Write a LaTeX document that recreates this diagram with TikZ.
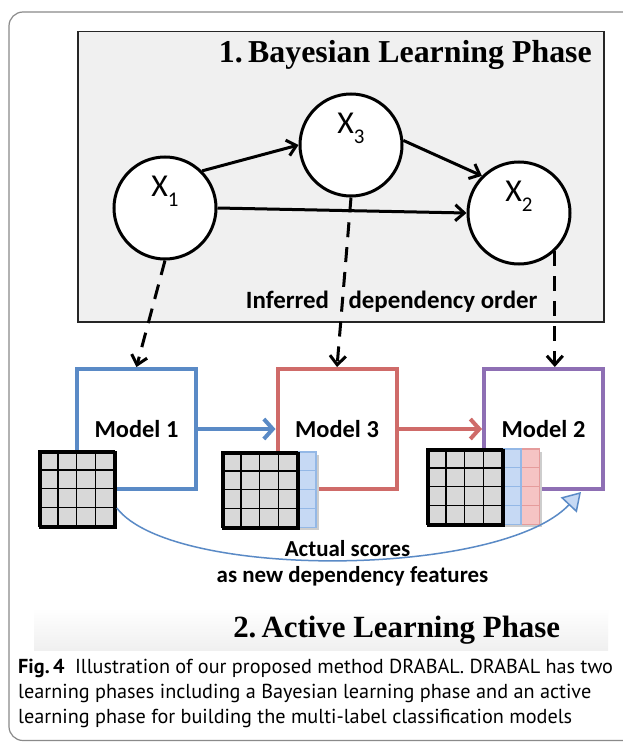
\documentclass[tikz,border=0pt]{standalone}
\usepackage{fontspec}
\setmainfont{Liberation Serif}
\newfontfamily\calib{Carlito}
\newfontfamily\capfont{PT Sans}
\usetikzlibrary{arrows.meta,calc}
\definecolor{mblue}{HTML}{5A8AC6}
\definecolor{mred}{HTML}{CF6B69}
\definecolor{mpurple}{HTML}{8E6FB4}
\definecolor{boxgray}{HTML}{F0F0F0}
\definecolor{framegray}{HTML}{8A8A8A}
\definecolor{cellgray}{HTML}{D8D8D8}
\definecolor{shadowgray}{HTML}{CDCDCD}
\definecolor{lblue}{HTML}{C6D9F4}
\definecolor{lbluedark}{HTML}{94B8E6}
\definecolor{lred}{HTML}{F5C4C4}
\definecolor{lreddark}{HTML}{E59C9C}
\newcommand\xlab[1]{{\calib\fontsize{32}{32}\selectfont X\raisebox{-10pt}{\fontsize{21}{21}\selectfont #1}}}
\begin{document}
\begin{tikzpicture}[x=1bp,y=-1bp,
  circ/.style={circle, draw=black, line width=3bp, fill=white, minimum size=102bp, inner sep=0pt, text height=0pt, text depth=24pt},
  arr/.style={line width=3bp, -{Straight Barb[length=9pt,width=16pt]}},
  darr/.style={line width=3bp, dash pattern=on 15pt off 10pt, -{Straight Barb[length=9pt,width=16pt]}},
  marr/.style={line width=4bp, -{Straight Barb[length=9pt,width=20pt]}},
  mbox/.style={rectangle, line width=4bp, fill=white, minimum width=119bp, minimum height=120bp, inner sep=0pt, font=\calib\bfseries\fontsize{24.5}{24.5}\selectfont},
  sanslab/.style={anchor=base, inner sep=0pt, font=\calib\bfseries\fontsize{23}{23}\selectfont},
  cell/.style={draw=black, line width=1.5bp, fill=cellgray},
  bcell/.style={draw=lbluedark, line width=1.3bp, fill=lblue},
  rcell/.style={draw=lreddark, line width=1.3bp, fill=lred},
  gridbox/.style={draw=black, line width=2.6bp, minimum size=75.2bp, inner sep=0pt, anchor=north west},
  gshadow/.style={fill=shadowgray},
  capline/.style={anchor=base west, inner sep=0pt, font=\capfont\fontsize{20.3}{20.3}\selectfont}]
\useasboundingbox (0,0) rectangle (623,742);
\fill[white] (0,0) rectangle (623,742);
% outer frame
\draw[framegray, line width=1.2bp, rounded corners=14bp] (9,12) rectangle (700,740.5);
% faint band behind the second title
\shade[top color=white, bottom color=gray!12] (34,608) rectangle (608,650);
% Bayesian box
\node[draw=black!85, line width=1.5bp, fill=boxgray, minimum width=526bp, minimum height=290bp, inner sep=0pt, anchor=north west] (BL) at (77,31) {};
\node[anchor=base east, inner sep=0pt, font=\bfseries\fontsize{32}{32}\selectfont] (T1) at (592,63) {1.\,Bayesian Learning Phase};
% network nodes
\node[circ] (X1) at (165,208) {\xlab{1}};
\node[circ] (X3) at (351,145) {\xlab{3}};
\node[circ] (X2) at (519,213) {\xlab{2}};
\draw[arr] (X1.45) -- (X3.west);
\draw[arr] (X3.5) -- (X2.135);
\draw[arr] (X1.east) -- (X2.west);
\node[sanslab, font=\calib\bfseries\fontsize{25}{25}\selectfont] (I1) at (287.5,308) {Inferred};
\node[sanslab, font=\calib\bfseries\fontsize{25}{25}\selectfont] (I2) at (443,308) {dependency order};
% model boxes
\node[mbox, draw=mblue] (M1) at (136.5,429) {Model 1};
\node[mbox, draw=mred] (M3) at (337,429) {Model 3};
\node[mbox, draw=mpurple] (M2) at (543.5,429) {Model 2};
\draw[darr] (X1.south) -- (M1.north);
\draw[darr] (X3.south) -- (M3.north);
\draw[darr] (X2.-47) -- (X2.-47 |- M2.north);
\draw[marr, mblue] (M1.east) -- (M3.west);
\draw[marr, mred] (M3.east) -- (M2.west);
% grid shadows
\fill[gshadow] (41.5,453.5) rectangle ++(75.2,75.2);
\fill[gshadow] (224.5,454.5) rectangle ++(94,75.2);
\fill[gshadow] (429.5,451.5) rectangle ++(112.8,75.2);
% grid 1
\foreach \i in {0,1,2,3} \foreach \j in {0,1,2,3}
  \path[cell] ({39+\i*18.8},{451+\j*18.8}) rectangle ++(18.8,18.8);
\node[gridbox] (G1) at (39,451) {};
% grid 2
\foreach \j in {0,1,2,3}
  \path[bcell] ({222+75.2},{452+\j*18.8}) rectangle ++(18.8,18.8);
\foreach \i in {0,1,2,3} \foreach \j in {0,1,2,3}
  \path[cell] ({222+\i*18.8},{452+\j*18.8}) rectangle ++(18.8,18.8);
\node[gridbox] (G2) at (222,452) {};
% grid 3
\foreach \j in {0,1,2,3} {
  \path[rcell] ({427+94},{449+\j*18.8}) rectangle ++(18.8,18.8);
  \path[bcell] ({427+75.2},{449+\j*18.8}) rectangle ++(18.8,18.8);
}
\foreach \i in {0,1,2,3} \foreach \j in {0,1,2,3}
  \path[cell] ({427+\i*18.8},{449+\j*18.8}) rectangle ++(18.8,18.8);
\node[gridbox] (G3) at (427,449) {};
% feedback curve
\coordinate (cend) at ($(M2.south east)+(-24,1)$);
\draw[mblue, line width=1.5bp, -{Triangle[length=18pt,width=22pt,fill=lblue]}] (G1.-25) .. controls (172,580) and (500,578) .. (cend);
\node[sanslab] (A1) at (347.5,556) {Actual scores};
\node[sanslab] (A2) at (352.5,582) {as new dependency features};
\node[anchor=base, inner sep=0pt, font=\bfseries\fontsize{31}{31}\selectfont] (T2) at (396.7,637) {2.\,Active Learning Phase};
% caption
\node[capline] (C1) at (18,673) {\textbf{Fig.\,4}\hspace{0.25em} Illustration of our proposed method DRABAL. DRABAL has two};
\node[capline] (C2) at (18,698) {learning phases including a Bayesian learning phase and an active};
\node[capline] (C3) at (18,723) {learning phase for building the multi-label classification models};
\end{tikzpicture}
\end{document}
